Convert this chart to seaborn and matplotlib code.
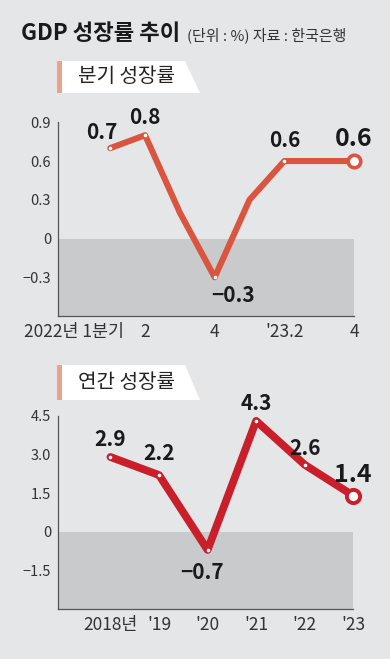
import matplotlib
matplotlib.use("Agg")
import matplotlib.pyplot as plt
import matplotlib.patches as mpatches
import matplotlib.transforms as mtrans
import seaborn as sns
import pandas as pd

# data
q_pos = [1, 2, 3, 4, 5, 6, 7, 8]
q_vals = [0.7, 0.8, 0.2, -0.3, 0.3, 0.6, 0.6, 0.6]
q_ticklabels = ["2022년 1분기", "2", "", "4", "", "'23.2", "", "4"]
q_marked = [1, 2, 4, 6]

years = [2018, 2019, 2020, 2021, 2022, 2023]
y_vals = [2.9, 2.2, -0.7, 4.3, 2.6, 1.4]
y_ticklabels = ["2018년", "'19", "'20", "'21", "'22", "'23"]

sns.set_style("white")
plt.rcParams['font.family'] = ['Noto Sans CJK KR', 'DejaVu Sans']
plt.rcParams['axes.unicode_minus'] = True

BG = '#e5e6e8'
SHADE = '#c9cacc'
C_Q = '#d9553f'
C_Y = '#c81f2a'
W, H = 390, 659

fig = plt.figure(figsize=(3.9, 6.59), dpi=100, facecolor=BG)


def fx(px):
    return px / W


def fy(py):
    return 1 - py / H


def style_axes(ax, ylim, yticks, yticklabels):
    ax.set_facecolor('none')
    ax.set_ylim(*ylim)
    ax.axhspan(ylim[0], 0, color=SHADE, zorder=0, lw=0)
    for s in ['top', 'right']:
        ax.spines[s].set_visible(False)
    for s in ['left', 'bottom']:
        ax.spines[s].set_color('#555555')
        ax.spines[s].set_linewidth(0.9)
    ax.set_yticks(yticks)
    ax.set_yticklabels(yticklabels)
    ax.tick_params(axis='y', direction='in', length=6, width=0.8, color='#555555',
                   labelsize=10.5, labelcolor='#333333', pad=5)
    ax.tick_params(axis='x', direction='in', length=5, width=0.8, color='#777777',
                   labelsize=12.5, labelcolor='#333333', pad=5)


def label_box(text, top, bottom):
    fig.patches.append(mpatches.Polygon(
        [(fx(62), fy(top)), (fx(185), fy(top)), (fx(200), fy(bottom)), (fx(62), fy(bottom))],
        closed=True, transform=fig.transFigure, facecolor='white', edgecolor='none'))
    fig.patches.append(mpatches.Rectangle(
        (fx(57), fy(bottom)), fx(5), (bottom - top) / H,
        transform=fig.transFigure, facecolor='#e9a38b', edgecolor='none'))
    fig.text(fx(78), fy((top + bottom) / 2), text, fontsize=14.5, color='#222222',
             ha='left', va='center')


def fmt(v):
    return f"{v:.1f}".replace('-', '−')


# title
fig.text(fx(21), fy(34), "GDP 성장률 추이", fontsize=16, fontweight='bold',
         color='#1a1a1a', ha='left', va='center')
fig.text(fx(187), fy(35), "(단위 : %) 자료 : 한국은행", fontsize=10.8,
         color='#333333', ha='left', va='center')

# quarterly
ax1 = fig.add_axes([fx(58), fy(316), fx(354 - 58), (316 - 122.3) / H])
style_axes(ax1, (-0.6, 0.9), [0.9, 0.6, 0.3, 0, -0.3], ['0.9', '0.6', '0.3', '0', '−0.3'])
ax1.set_xlim(-0.5, 8)
dq = pd.DataFrame({'pos': q_pos, 'val': q_vals})
sns.lineplot(data=dq, x='pos', y='val', ax=ax1, color=C_Q, lw=4.4,
             solid_joinstyle='round', solid_capstyle='round', zorder=3, clip_on=False)
mk = dq[dq['pos'].isin(q_marked)]
ax1.plot(mk['pos'], mk['val'], 'o', ms=2.6, color='white', mew=0, zorder=4, clip_on=False)
ax1.plot(q_pos[-1], q_vals[-1], 'o', ms=9, mfc='white', mec=C_Q, mew=2.6, zorder=5, clip_on=False)
ax1.set_xticks(q_pos)
ax1.set_xticklabels(q_ticklabels)
ax1.set_xlabel('')
ax1.set_ylabel('')
first = ax1.get_xticklabels()[0]
first.set_transform(first.get_transform() + mtrans.ScaledTranslation(-36 / 100, 0, fig.dpi_scale_trans))

q_offsets = {0: (-8, 16), 1: (0, 18), 3: (18, -18), 5: (0, 21)}
for i, (dx, dy) in q_offsets.items():
    ax1.annotate(fmt(q_vals[i]), (q_pos[i], q_vals[i]), xytext=(dx, dy),
                 textcoords='offset pixels', ha='center', va='center',
                 fontsize=15, fontweight='bold', color='#1a1a1a')
ax1.annotate(fmt(q_vals[-1]), (q_pos[-1], q_vals[-1]), xytext=(0, 22),
             textcoords='offset pixels', ha='center', va='center',
             fontsize=18, fontweight='bold', color='#1a1a1a')

# yearly
ax2 = fig.add_axes([fx(58), fy(609.3), fx(353.3 - 58), (609.3 - 415.7) / H])
style_axes(ax2, (-3.0, 4.5), [4.5, 3.0, 1.5, 0, -1.5], ['4.5', '3.0', '1.5', '0', '−1.5'])
ax2.set_xlim(2016.92, 2023)
dy_ = pd.DataFrame({'year': years, 'val': y_vals})
sns.lineplot(data=dy_, x='year', y='val', ax=ax2, color=C_Y, lw=5.6,
             solid_joinstyle='round', solid_capstyle='round', zorder=3, clip_on=False)
ax2.plot(years[:-1], y_vals[:-1], 'o', ms=2.6, color='white', mew=0, zorder=4, clip_on=False)
ax2.plot(years[-1], y_vals[-1], 'o', ms=9.5, mfc='white', mec=C_Y, mew=2.8, zorder=5, clip_on=False)
ax2.set_xticks(years)
ax2.set_xticklabels(y_ticklabels)
ax2.set_xlabel('')
ax2.set_ylabel('')

y_offsets = [(0, 18), (0, 22), (-6, -23), (0, 17), (0, 16)]
for i, (dx, dy) in enumerate(y_offsets):
    ax2.annotate(fmt(y_vals[i]), (years[i], y_vals[i]), xytext=(dx, dy),
                 textcoords='offset pixels', ha='center', va='center',
                 fontsize=15, fontweight='bold', color='#1a1a1a')
ax2.annotate(fmt(y_vals[-1]), (years[-1], y_vals[-1]), xytext=(0, 21),
             textcoords='offset pixels', ha='center', va='center',
             fontsize=18, fontweight='bold', color='#1a1a1a')

label_box("분기 성장률", 61, 93)
label_box("연간 성장률", 365, 400)

fig.savefig("out.png", dpi=100, facecolor=BG)
